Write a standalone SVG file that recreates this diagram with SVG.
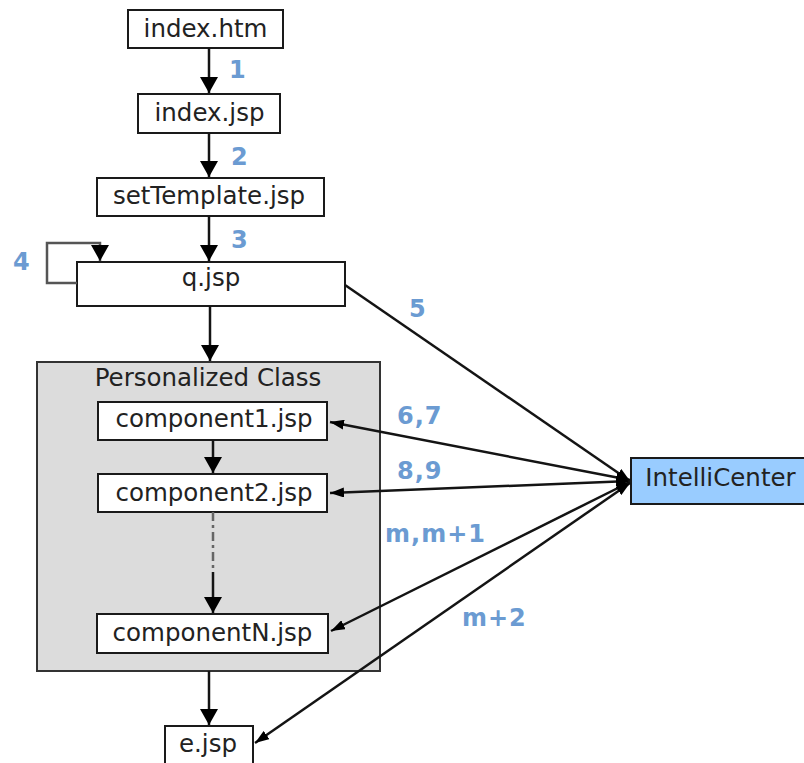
<svg xmlns="http://www.w3.org/2000/svg" width="804" height="763" viewBox="0 0 804 763">
  <defs>
    <style>
      .box { fill: #ffffff; stroke: #1a1a1a; stroke-width: 2; }
      .name { font-family: "DejaVu Sans", Verdana, sans-serif; font-size: 24.5px; fill: #222222; text-anchor: middle; }
      .step { font-family: "DejaVu Sans", Verdana, sans-serif; font-size: 24px; font-weight: bold; fill: #6b9bd2; letter-spacing: 1px; }
      .flow { stroke: #141414; stroke-width: 2.5; fill: none; }
      .loop { stroke: #555555; stroke-width: 2.5; fill: none; }
    </style>
    <marker id="bigHead" markerUnits="userSpaceOnUse" viewBox="0 0 16 18" refX="16" refY="9" markerWidth="16" markerHeight="18" orient="auto">
      <path d="M0,0 L16,9 L0,18 z" fill="#000000"/>
    </marker>
    <marker id="smallHead" markerUnits="userSpaceOnUse" viewBox="0 0 14 10" refX="14" refY="5" markerWidth="14" markerHeight="10" orient="auto">
      <path d="M0,0 L14,5 L0,10 z" fill="#000000"/>
    </marker>
    <marker id="smallTail" markerUnits="userSpaceOnUse" viewBox="0 0 14 10" refX="0" refY="5" markerWidth="14" markerHeight="10" orient="auto">
      <path d="M14,0 L0,5 L14,10 z" fill="#000000"/>
    </marker>
  </defs>

  <rect width="804" height="763" fill="#ffffff"/>

  <!-- container for the personalised class components -->
  <g id="personalized-class">
    <rect x="37" y="362" width="343" height="309" fill="#dcdcdc" stroke="#333333" stroke-width="2"/>
    <text class="name" x="208" y="386">Personalized Class</text>
  </g>

  <g id="index-htm">
    <rect class="box" x="128" y="10" width="155" height="38"/>
    <text class="name" x="205.5" y="37">index.htm</text>
  </g>
  <g id="index-jsp">
    <rect class="box" x="138" y="94" width="142" height="39"/>
    <text class="name" x="209.5" y="121">index.jsp</text>
  </g>
  <g id="settemplate-jsp">
    <rect class="box" x="97" y="178" width="227" height="38"/>
    <text class="name" x="209" y="204">setTemplate.jsp</text>
  </g>
  <g id="q-jsp">
    <rect class="box" x="77" y="262" width="268" height="44"/>
    <text class="name" x="211" y="286">q.jsp</text>
  </g>
  <g id="component1-jsp">
    <rect class="box" x="98" y="402" width="229" height="38"/>
    <text class="name" x="214" y="427">component1.jsp</text>
  </g>
  <g id="component2-jsp">
    <rect class="box" x="98" y="474" width="229" height="38"/>
    <text class="name" x="214" y="501">component2.jsp</text>
  </g>
  <g id="componentN-jsp">
    <rect class="box" x="97" y="614" width="231" height="39"/>
    <text class="name" x="212.5" y="641">componentN.jsp</text>
  </g>
  <g id="e-jsp">
    <rect class="box" x="165" y="726" width="88" height="44"/>
    <text class="name" x="208" y="752">e.jsp</text>
  </g>
  <g id="intellicenter">
    <rect x="631" y="458" width="175" height="46" fill="#99ccff" stroke="#1a1a1a" stroke-width="2"/>
    <text class="name" x="720.5" y="486">IntelliCenter</text>
  </g>

  <g id="connectors">
    <!-- main page sequence -->
    <line class="flow" x1="209" y1="48" x2="209" y2="93" marker-end="url(#bigHead)"/>
    <line class="flow" x1="209" y1="133" x2="209" y2="177" marker-end="url(#bigHead)"/>
    <line class="flow" x1="209" y1="216" x2="209" y2="261" marker-end="url(#bigHead)"/>
    <polyline class="loop" points="77,283 47,283 47,243 100,243 100,261" marker-end="url(#bigHead)"/>
    <line class="flow" x1="210" y1="306" x2="210" y2="361" marker-end="url(#bigHead)"/>
    <line class="flow" x1="213" y1="440" x2="213" y2="473" marker-end="url(#bigHead)"/>
    <line x1="213" y1="512" x2="213" y2="572" stroke="#666666" stroke-width="2.5" stroke-dasharray="9,4,3,4"/>
    <line class="flow" x1="213" y1="572" x2="213" y2="613" marker-end="url(#bigHead)"/>
    <line class="flow" x1="209" y1="671" x2="209" y2="725" marker-end="url(#bigHead)"/>

    <!-- exchanges with IntelliCenter -->
    <line class="flow" x1="345" y1="285" x2="630" y2="481" marker-end="url(#smallHead)"/>
    <line class="flow" x1="330" y1="422" x2="630" y2="480" marker-start="url(#smallTail)" marker-end="url(#smallHead)"/>
    <line class="flow" x1="330" y1="493" x2="630" y2="481" marker-start="url(#smallTail)" marker-end="url(#smallHead)"/>
    <line class="flow" x1="331" y1="631" x2="630" y2="482" marker-start="url(#smallTail)" marker-end="url(#smallHead)"/>
    <line class="flow" x1="255" y1="743" x2="630" y2="483" marker-start="url(#smallTail)" marker-end="url(#smallHead)"/>

    <!-- step numbers -->
    <text class="step" x="229" y="78">1</text>
    <text class="step" x="231" y="165">2</text>
    <text class="step" x="231" y="248">3</text>
    <text class="step" x="13" y="270">4</text>
    <text class="step" x="409" y="317">5</text>
    <text class="step" x="397" y="424">6,7</text>
    <text class="step" x="397" y="479">8,9</text>
    <text class="step" x="385" y="542">m,m+1</text>
    <text class="step" x="462" y="626">m+2</text>
  </g>
</svg>
